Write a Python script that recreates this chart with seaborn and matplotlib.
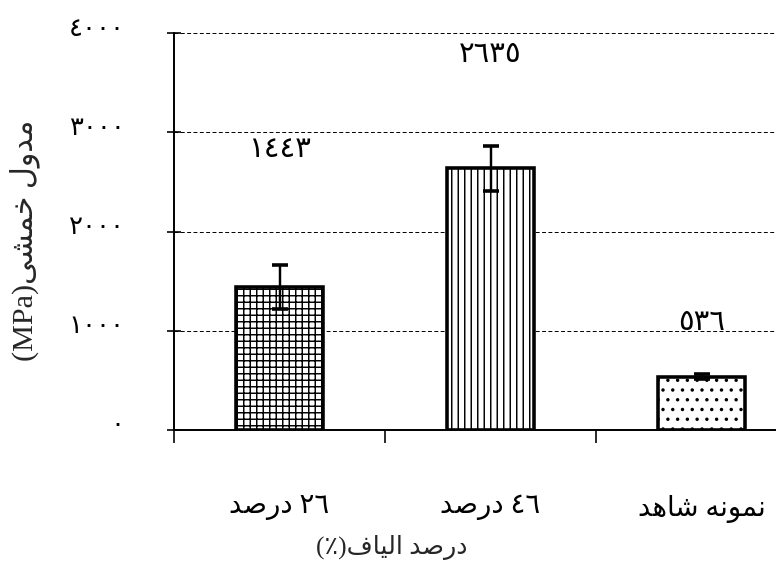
import re
import matplotlib
matplotlib.use("Agg")
import matplotlib.pyplot as plt
import matplotlib.transforms as mtransforms
import pandas as pd
import seaborn as sns

# ---- data -------------------------------------------------------------
categories = ["٢٦ درصد", "٤٦ درصد", "نمونه شاهد"]
modulus = [1443, 2635, 536]
modulus_err = [220, 230, 25]
y_ticks = [0, 1000, 2000, 3000, 4000]
y_label = "مدول خمشی(MPa)"
x_label = "درصد الیاف(٪)"

# ---- layout / style ---------------------------------------------------
value_label_y = [2820, 3780, 1080]
hatches = ["+++", "|||", ".."]

# ---- minimal Arabic-script shaping (matplotlib has no text shaping) ---
# forms: isolated, final, initial, medial (None = does not join forward)
FORMS = {
    "ا": ("\uFE8D", "\uFE8E", None, None),
    "ب": ("\uFE8F", "\uFE90", "\uFE91", "\uFE92"),
    "خ": ("\uFEA5", "\uFEA6", "\uFEA7", "\uFEA8"),
    "د": ("\uFEA9", "\uFEAA", None, None),
    "ر": ("\uFEAD", "\uFEAE", None, None),
    "ش": ("\uFEB5", "\uFEB6", "\uFEB7", "\uFEB8"),
    "ص": ("\uFEB9", "\uFEBA", "\uFEBB", "\uFEBC"),
    "ف": ("\uFED1", "\uFED2", "\uFED3", "\uFED4"),
    "ل": ("\uFEDD", "\uFEDE", "\uFEDF", "\uFEE0"),
    "م": ("\uFEE1", "\uFEE2", "\uFEE3", "\uFEE4"),
    "ن": ("\uFEE5", "\uFEE6", "\uFEE7", "\uFEE8"),
    "ه": ("\uFEE9", "\uFEEA", "\uFEEB", "\uFEEC"),
    "و": ("\uFEED", "\uFEEE", None, None),
    "ی": ("\uFEEF", "\uFEF0", "\uFEF3", "\uFEF4"),
}
ARABIC_LETTERS = "\u0621-\u064A\u067E\u0686\u0698\u06A9\u06AF\u06CC"
TOKEN = re.compile(f"[{ARABIC_LETTERS}]+|[0-9A-Za-z\u0660-\u066A.]+|.")
MIRROR = {"(": ")", ")": "("}


def shape_word(word):
    out = []
    for i, ch in enumerate(word):
        f = FORMS.get(ch)
        if f is None:
            out.append(ch)
            continue
        prev = FORMS.get(word[i - 1]) if i > 0 else None
        joins_prev = prev is not None and prev[2] is not None
        joins_next = i < len(word) - 1 and f[2] is not None and word[i + 1] in FORMS
        if joins_prev and joins_next:
            out.append(f[3])
        elif joins_prev:
            out.append(f[1])
        elif joins_next:
            out.append(f[2])
        else:
            out.append(f[0])
    return "".join(reversed(out))


def rtl(text):
    pieces = []
    for tok in TOKEN.findall(text):
        if re.fullmatch(f"[{ARABIC_LETTERS}]+", tok):
            pieces.append(shape_word(tok))
        elif len(tok) == 1 and tok in MIRROR:
            pieces.append(MIRROR[tok])
        else:
            pieces.append(tok)
    return "".join(reversed(pieces))


def arabic_digits(n):
    return str(n).translate(str.maketrans("0123456789", "٠١٢٣٤٥٦٧٨٩"))


# ---- figure -----------------------------------------------------------
sns.set_style("white")
plt.rcParams["font.family"] = ["Liberation Serif", "DejaVu Sans"]
plt.rcParams["hatch.linewidth"] = 0.9

DPI = 117
fig = plt.figure(figsize=(776 / DPI, 563 / DPI), dpi=DPI)
ax = fig.add_axes([174 / 776, 133 / 563, 633 / 776, 397 / 563])

labels = [rtl(c) for c in categories]
df = pd.DataFrame({"group": labels, "modulus": modulus})
sns.barplot(data=df, x="group", y="modulus", order=labels, color="white",
            saturation=1, edgecolor="black", linewidth=2.2, width=0.41,
            errorbar=None, ax=ax, zorder=2)
for bar, h in zip(ax.patches, hatches):
    bar.set_hatch(h)

ax.errorbar(range(len(modulus)), modulus, yerr=modulus_err, fmt="none",
            ecolor="black", elinewidth=1.5, capsize=5, capthick=2.2, zorder=3)

for i, v in enumerate(modulus):
    ax.text(i, value_label_y[i], arabic_digits(v), ha="center", va="center",
            fontsize=18, color="black")

# axes limits, grid, spines
ax.set_xlim(-0.5, 2.5)
ax.set_ylim(0, 4000)
ax.set_axisbelow(True)
ax.yaxis.grid(True, color="black", linestyle=(0, (4, 2.5)), linewidth=0.6)
ax.xaxis.grid(False)
for side in ("top", "right"):
    ax.spines[side].set_visible(False)
for side in ("left", "bottom"):
    ax.spines[side].set_color("black")
    ax.spines[side].set_linewidth(1.2)

# y axis
ax.set_yticks(y_ticks)
ax.set_yticklabels([arabic_digits(t) for t in y_ticks], fontsize=16)
ax.tick_params(axis="y", which="major", left=True, direction="inout",
               length=8.5, width=1, pad=26, colors="black")
for lab in ax.get_yticklabels():
    lab.set_transform(lab.get_transform() +
                      mtransforms.ScaledTranslation(0, 6 / DPI, fig.dpi_scale_trans))

# x axis: labels under bars, tick marks between categories
ax.set_xticks(range(len(labels)))
ax.set_xticklabels(labels, fontsize=17)
ax.tick_params(axis="x", which="major", bottom=True, length=0, pad=40,
               colors="black")
ax.set_xticks([-0.5, 0.5, 1.5, 2.5], minor=True)
ax.tick_params(axis="x", which="minor", bottom=True, direction="out",
               length=8, width=1, colors="black")

ax.set_xlabel(rtl(x_label), fontsize=15.5, va="center")
ax.xaxis.set_label_coords((392 - 174) / 633, (430 - 548) / 397)
ax.set_ylabel(rtl(y_label), fontsize=18.5, va="center")
ax.yaxis.set_label_coords((25 - 174) / 633, (430 - 240) / 397)

fig.savefig("out.png", dpi=DPI)
